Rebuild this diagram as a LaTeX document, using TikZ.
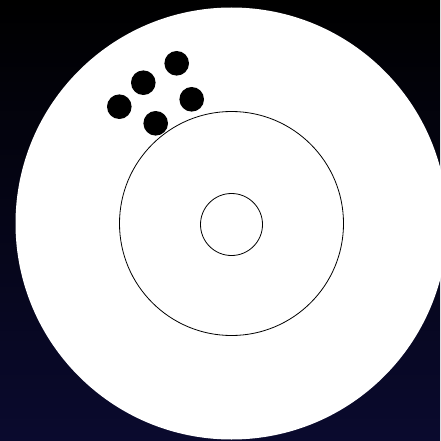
\documentclass[tikz,border=0pt]{standalone}
\usepackage{tikz}
\definecolor{bgtop}{RGB}{0,0,0}
\definecolor{bgbottom}{RGB}{10,10,46}

\begin{document}
\begin{tikzpicture}[
  x=1pt, y=-1pt,
  ring/.style={draw=black, line width=0.8pt},
  hole/.style={fill=black},
]

% background
\shade[top color=bgtop, bottom color=bgbottom] (0,0) rectangle (440,441);
\useasboundingbox (0,0) rectangle (440,441);

% target face
\fill[white] (231.5,223.5) circle (216);
\draw[ring] (231.5,223.5) circle (112);
\draw[ring] (231.5,224.5) circle (31);

% shots
\foreach \px/\py in {176.7/63.3, 143.3/82.7, 119.3/106.7, 191.7/99.3, 155.7/123.3}
  \fill[hole] (\px,\py) circle (12.3);

\end{tikzpicture}
\end{document}
